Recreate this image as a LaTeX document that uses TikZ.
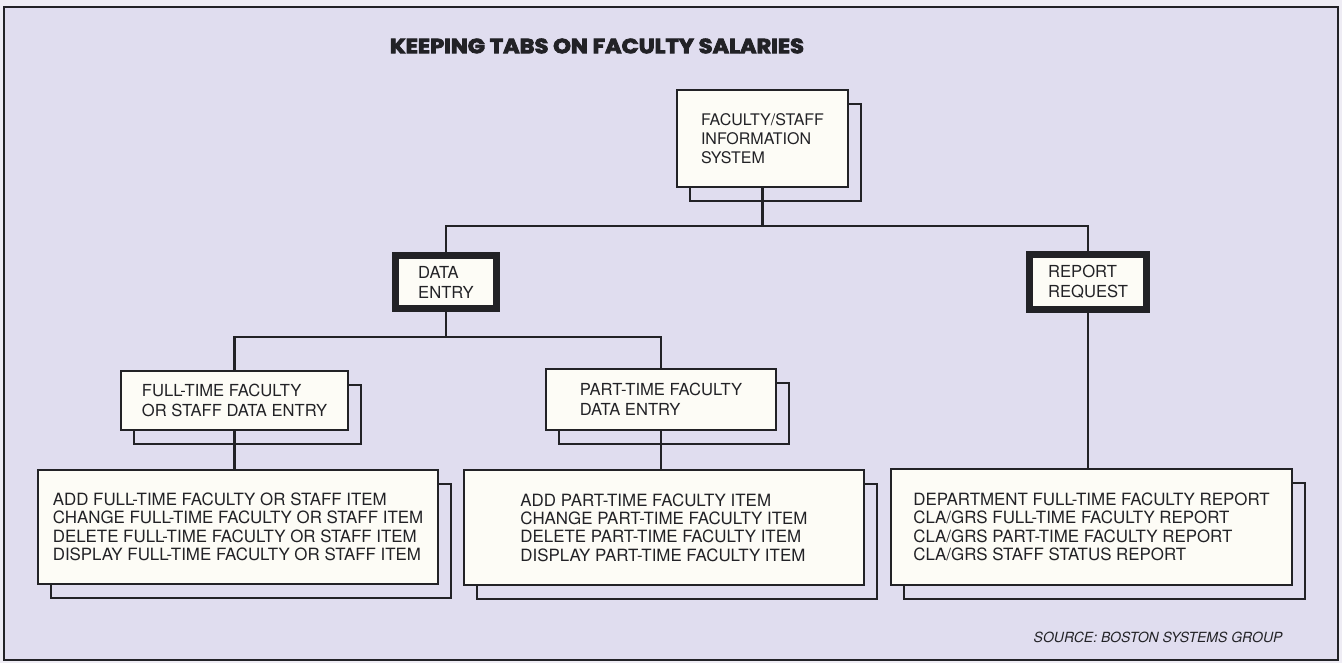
\documentclass[tikz,border=0pt]{standalone}
\usepackage{fontspec}
\setmainfont{TeX Gyre Heros}
\newfontfamily\titlefont{Poppins}[BoldFeatures={FakeBold=4}]
\usepackage{tikz}
\usetikzlibrary{shadows}
\definecolor{PageLav}{RGB}{224,221,239}
\definecolor{PageEdge}{RGB}{238,236,244}
\definecolor{CardWhite}{RGB}{253,252,246}
\definecolor{InkGray}{RGB}{34,34,38}

\begin{document}
\begin{tikzpicture}[
  x=1pt, y=-1pt,
  font=\fontsize{16.9}{18.4}\selectfont,
  card/.style={draw=InkGray, fill=CardWhite, line width=2.2pt, inner sep=0pt, align=left, text=InkGray},
  stack/.style={card, copy shadow={shadow xshift=13pt, shadow yshift=-14pt, fill=PageLav}},
  heavy/.style={card, line width=7pt},
  link/.style={draw=InkGray, line width=2.2pt}
]
\useasboundingbox (0,0) rectangle (1342,663);
\fill[PageEdge] (0,0) rectangle (1342,663);
\draw[InkGray, line width=1.8pt, fill=PageLav] (4,7) rectangle (1338,660);

\node[font=\titlefont\fontsize{20.5}{24}\selectfont\bfseries, text=InkGray] (title) at (597,46) {\scalebox{1.1}[1]{KEEPING TABS ON FACULTY SALARIES}};

\node[stack, minimum width=171pt, minimum height=97pt, font=\fontsize{16}{19}\selectfont] (fsis) at (762.5,138.5) {FACULTY/STAFF\\INFORMATION\\SYSTEM};
\node[heavy, minimum width=101pt, minimum height=53pt, font=\fontsize{16.6}{20}\selectfont] (dataentry) at (446,282) {DATA\\ENTRY};
\node[heavy, minimum width=117pt, minimum height=54pt, font=\fontsize{16.6}{20}\selectfont] (reportreq) at (1088,282) {REPORT\\REQUEST};

\node[stack, minimum width=227pt, minimum height=59pt, font=\fontsize{16.6}{20}\selectfont] (fulltime) at (234.5,400.5) {FULL-TIME FACULTY\\OR STAFF DATA ENTRY};
\node[stack, minimum width=230pt, minimum height=61pt, font=\fontsize{16.6}{20}\selectfont] (parttime) at (661,399.5) {PART-TIME FACULTY\\DATA ENTRY};

\node[stack, minimum width=400pt, minimum height=114pt] (fullitems) at (238,527) {ADD FULL-TIME FACULTY OR STAFF ITEM\\CHANGE FULL-TIME FACULTY OR STAFF ITEM\\DELETE FULL-TIME FACULTY OR STAFF ITEM\\DISPLAY FULL-TIME FACULTY OR STAFF ITEM};
\node[stack, minimum width=400pt, minimum height=115pt] (partitems) at (664,527.5) {ADD PART-TIME FACULTY ITEM\\CHANGE PART-TIME FACULTY ITEM\\DELETE PART-TIME FACULTY ITEM\\DISPLAY PART-TIME FACULTY ITEM};
\node[stack, minimum width=401pt, minimum height=116pt] (reports) at (1091.5,527) {DEPARTMENT FULL-TIME FACULTY REPORT\\CLA/GRS FULL-TIME FACULTY REPORT\\CLA/GRS PART-TIME FACULTY REPORT\\CLA/GRS STAFF STATUS REPORT};

\node[font=\itshape\fontsize{14}{16}\selectfont, text=InkGray, anchor=east] (source) at (1286,637) {SOURCE: BOSTON SYSTEMS GROUP};

\coordinate (topbus) at (0,226);
\coordinate (midbus) at (0,337);
\draw[link] (fsis.south) -- (fsis.south |- topbus);
\draw[link] (dataentry.north) |- (reportreq.north |- topbus) -- (reportreq.north);
\draw[link] (dataentry.south) -- (dataentry.south |- midbus);
\draw[link] (fulltime.north) |- (parttime.north |- midbus) -- (parttime.north);
\draw[link] (fulltime.south) -- (fulltime.south |- fullitems.north);
\draw[link] (parttime.south) -- (parttime.south |- partitems.north);
\draw[link] (reportreq.south) -- (reportreq.south |- reports.north);
\end{tikzpicture}
\end{document}
